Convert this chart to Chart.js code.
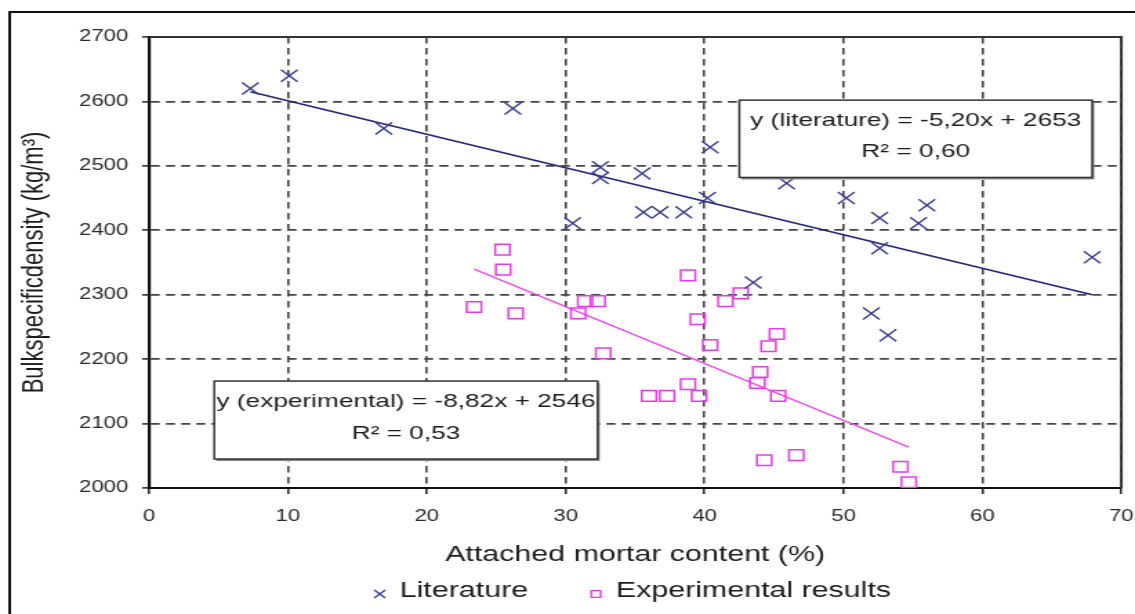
<!DOCTYPE html>
<html>
<head>
<meta charset="utf-8">
<title>Bulk specific density vs attached mortar content</title>
<script src="https://cdn.jsdelivr.net/npm/chart.js@4.4.1/dist/chart.umd.min.js"></script>
<style>
  html, body { margin: 0; padding: 0; background: #fff; overflow: hidden; }
  /* the canvas is drawn narrower and stretched wide */
  #chart { display: block; width: 1135px !important; height: 614px !important; }
</style>
</head>
<body>
<canvas id="chart" width="822" height="614" style="width:1135px;height:614px"></canvas>
<script>
// Literature: attached mortar content (%) / bulk specific density (kg/m3)
const litMortar = [7.3, 10.1, 16.9, 26.2, 30.5, 32.5, 32.5, 35.5, 35.6, 36.8, 38.5, 40.4,
                   40.2, 43.5, 45.9, 50.2, 52.6, 52.6, 55.4, 56.0, 52.0, 53.2, 67.9];
const litDensity = [2620, 2640, 2558, 2589, 2411, 2498, 2481, 2488, 2428, 2428, 2428, 2529,
                    2450, 2319, 2473, 2450, 2419, 2372, 2411, 2439, 2271, 2237, 2358];

// Experimental results
const expMortar = [25.45, 25.5, 23.4, 26.4, 31.4, 30.9, 32.3, 32.7, 38.8, 39.5, 40.4, 41.5, 42.6,
                   45.2, 44.6, 44.0, 43.8, 45.3, 38.8, 39.6, 36.0, 37.3, 44.3, 46.6, 54.1, 54.7];
const expDensity = [2370, 2339, 2281, 2271, 2290, 2271, 2290, 2209, 2330, 2262, 2222, 2290, 2302,
                    2239, 2220, 2180, 2163, 2143, 2161, 2143, 2143, 2143, 2043, 2051, 2033, 2009];

// Linear fits as printed on the chart
const litSlope = -5.20, litIntercept = 2653, litR2 = 0.60;
const expSlope = -8.82, expIntercept = 2546, expR2 = 0.53;

const xTickValues = [0, 10, 20, 30, 40, 50, 60, 70];
const yTickValues = [2000, 2100, 2200, 2300, 2400, 2500, 2600, 2700];

const seriesNames = ['Literature', 'Experimental results'];

const FONT = '"Liberation Sans", Arial, sans-serif';
const litColor = '#3a3a8e';
const litLineColor = '#25257c';
const expColor = '#e23de2';
const expLineColor = '#ec4dec';

function toPoints(xs, ys) {
    return xs.map((v, i) => ({ x: v, y: ys[i] }));
}

// trend line across the range of the series
function fitLine(xs, slope, intercept) {
    const lo = Math.min(...xs), hi = Math.max(...xs);
    return [lo, hi].map(v => ({ x: v, y: slope * v + intercept }));
}

function comma(v, d) {
    return v.toFixed(d).replace('.', ',');
}

function equation(name, slope, intercept) {
    return 'y (' + name + ') = ' + comma(slope, 2) + 'x + ' + intercept;
}

// equation boxes, placed in axis units
const fitBoxes = [
    { x0: 42.5, x1: 67.9, y0: 2602, y1: 2482,
      lines: [equation('literature', litSlope, litIntercept), 'R\u00B2 = ' + comma(litR2, 2)] },
    { x0: 4.7, x1: 32.3, y0: 2166, y1: 2045,
      lines: [equation('experimental', expSlope, expIntercept), 'R\u00B2 = ' + comma(expR2, 2)] }
];

function drawMarker(ctx, style, cx, cy, r, color) {
    ctx.save();
    ctx.strokeStyle = color;
    ctx.lineWidth = 1.4;
    ctx.beginPath();
    if (style === 'crossRot') {
        ctx.moveTo(cx - r, cy - r); ctx.lineTo(cx + r, cy + r);
        ctx.moveTo(cx + r, cy - r); ctx.lineTo(cx - r, cy + r);
    } else {
        ctx.rect(cx - r, cy - r, 2 * r, 2 * r);
    }
    ctx.stroke();
    ctx.restore();
}

const decorations = {
    id: 'decorations',
    beforeDraw(chart) {
        const ctx = chart.ctx;
        ctx.save();
        ctx.fillStyle = '#fff';
        ctx.fillRect(0, 0, chart.width, chart.height);
        // outer frame (left and top edges)
        ctx.strokeStyle = '#111';
        ctx.lineWidth = 2;
        ctx.beginPath();
        ctx.moveTo(7, chart.height);
        ctx.lineTo(7, 12);
        ctx.lineTo(chart.width, 12);
        ctx.stroke();
        ctx.restore();
    },
    afterDatasetsDraw(chart) {
        const { ctx, chartArea: a, scales: { x, y } } = chart;
        ctx.save();
        // top and right edges of the plot box
        ctx.strokeStyle = '#333';
        ctx.lineWidth = 2;
        ctx.beginPath();
        ctx.moveTo(a.left, a.top);
        ctx.lineTo(a.right, a.top);
        ctx.lineTo(a.right, a.bottom);
        ctx.stroke();

        fitBoxes.forEach(b => {
            const l = x.getPixelForValue(b.x0), r = x.getPixelForValue(b.x1);
            const t = y.getPixelForValue(b.y0), bt = y.getPixelForValue(b.y1);
            ctx.fillStyle = '#888';
            ctx.fillRect(l + 1.5, t + 2, r - l, bt - t);
            ctx.fillStyle = '#fff';
            ctx.fillRect(l, t, r - l, bt - t);
            ctx.strokeStyle = '#333';
            ctx.lineWidth = 1.5;
            ctx.strokeRect(l, t, r - l, bt - t);
            ctx.fillStyle = '#1c1c1c';
            ctx.font = '19px ' + FONT;
            ctx.textAlign = 'center';
            ctx.textBaseline = 'middle';
            const cx = (l + r) / 2;
            ctx.fillText(b.lines[0], cx, t + 0.27 * (bt - t));
            ctx.fillText(b.lines[1], cx, t + 0.67 * (bt - t));
        });
        ctx.restore();
    },
    afterDraw(chart) {
        const ctx = chart.ctx;
        const rowY = 591;
        const items = [
            { text: seriesNames[0], style: 'crossRot', color: litColor, mx: 275, tx: 289.5 },
            { text: seriesNames[1], style: 'rect', color: expColor, mx: 431.6, tx: 446 }
        ];
        ctx.save();
        ctx.font = '22px ' + FONT;
        ctx.fillStyle = '#1c1c1c';
        ctx.textAlign = 'left';
        ctx.textBaseline = 'middle';
        items.forEach(it => {
            drawMarker(ctx, it.style, it.mx, rowY + 3, it.style === 'rect' ? 3.4 : 4, it.color);
            ctx.fillText(it.text, it.tx, rowY);
        });
        ctx.restore();
    }
};

const gridDash = [6.5, 4.5];

new Chart(document.getElementById('chart'), {
    type: 'scatter',
    data: {
        datasets: [
            {
                label: seriesNames[0],
                data: toPoints(litMortar, litDensity),
                pointStyle: 'crossRot',
                pointRadius: 8.5,
                borderColor: litColor,
                backgroundColor: 'rgba(0,0,0,0)',
                pointBorderWidth: 1.4
            },
            {
                label: seriesNames[1],
                data: toPoints(expMortar, expDensity),
                pointStyle: 'rect',
                pointRadius: 7.5,
                borderColor: expColor,
                backgroundColor: 'rgba(0,0,0,0)',
                pointBorderWidth: 1.5
            },
            {
                label: 'fit literature',
                data: fitLine(litMortar, litSlope, litIntercept),
                showLine: true,
                pointRadius: 0,
                borderColor: litLineColor,
                borderWidth: 1.7
            },
            {
                label: 'fit experimental',
                data: fitLine(expMortar, expSlope, expIntercept),
                showLine: true,
                pointRadius: 0,
                borderColor: expLineColor,
                borderWidth: 1.5
            }
        ]
    },
    options: {
        responsive: false,
        animation: false,
        devicePixelRatio: 1,
        layout: { padding: { left: 7, top: 37, right: 8.7, bottom: 0 } },
        plugins: {
            legend: { display: false },
            tooltip: { enabled: false }
        },
        scales: {
            x: {
                type: 'linear',
                min: 0,
                max: 70,
                afterBuildTicks: s => { s.ticks = xTickValues.map(v => ({ value: v })); },
                afterFit: s => { s.height = 126; s.paddingLeft = 0; s.paddingRight = 0; },
                ticks: {
                    color: '#2a2a2a',
                    padding: 13,
                    maxRotation: 0,
                    callback: v => String(v),
                    font: { family: FONT, size: 16 }
                },
                grid: {
                    color: '#444',
                    lineWidth: 1.6,
                    tickLength: 6,
                    tickColor: '#222',
                    tickWidth: 1.5
                },
                border: { display: true, color: '#111', width: 2, dash: gridDash },
                title: {
                    display: true,
                    text: 'Attached mortar content (%)',
                    color: '#1c1c1c',
                    font: { family: FONT, size: 22 },
                    padding: { top: 0, bottom: 46 }
                }
            },
            y: {
                type: 'linear',
                min: 2000,
                max: 2700,
                afterBuildTicks: s => { s.ticks = yTickValues.map(v => ({ value: v })); },
                afterFit: s => { s.width = 100.9; },
                ticks: {
                    color: '#2a2a2a',
                    padding: 10,
                    callback: v => String(v),
                    font: { family: FONT, size: 16 }
                },
                grid: {
                    color: '#444',
                    lineWidth: 1.8,
                    tickLength: 5,
                    tickColor: '#222',
                    tickWidth: 1.5
                },
                border: { display: true, color: '#111', width: 2.2, dash: gridDash },
                title: {
                    display: true,
                    text: 'Bulkspecificdensity (kg/m\u00B3)',
                    color: '#1c1c1c',
                    font: { family: FONT, size: 22 },
                    padding: { top: 5, bottom: 0 }
                }
            }
        }
    },
    plugins: [decorations]
});
</script>
</body>
</html>
